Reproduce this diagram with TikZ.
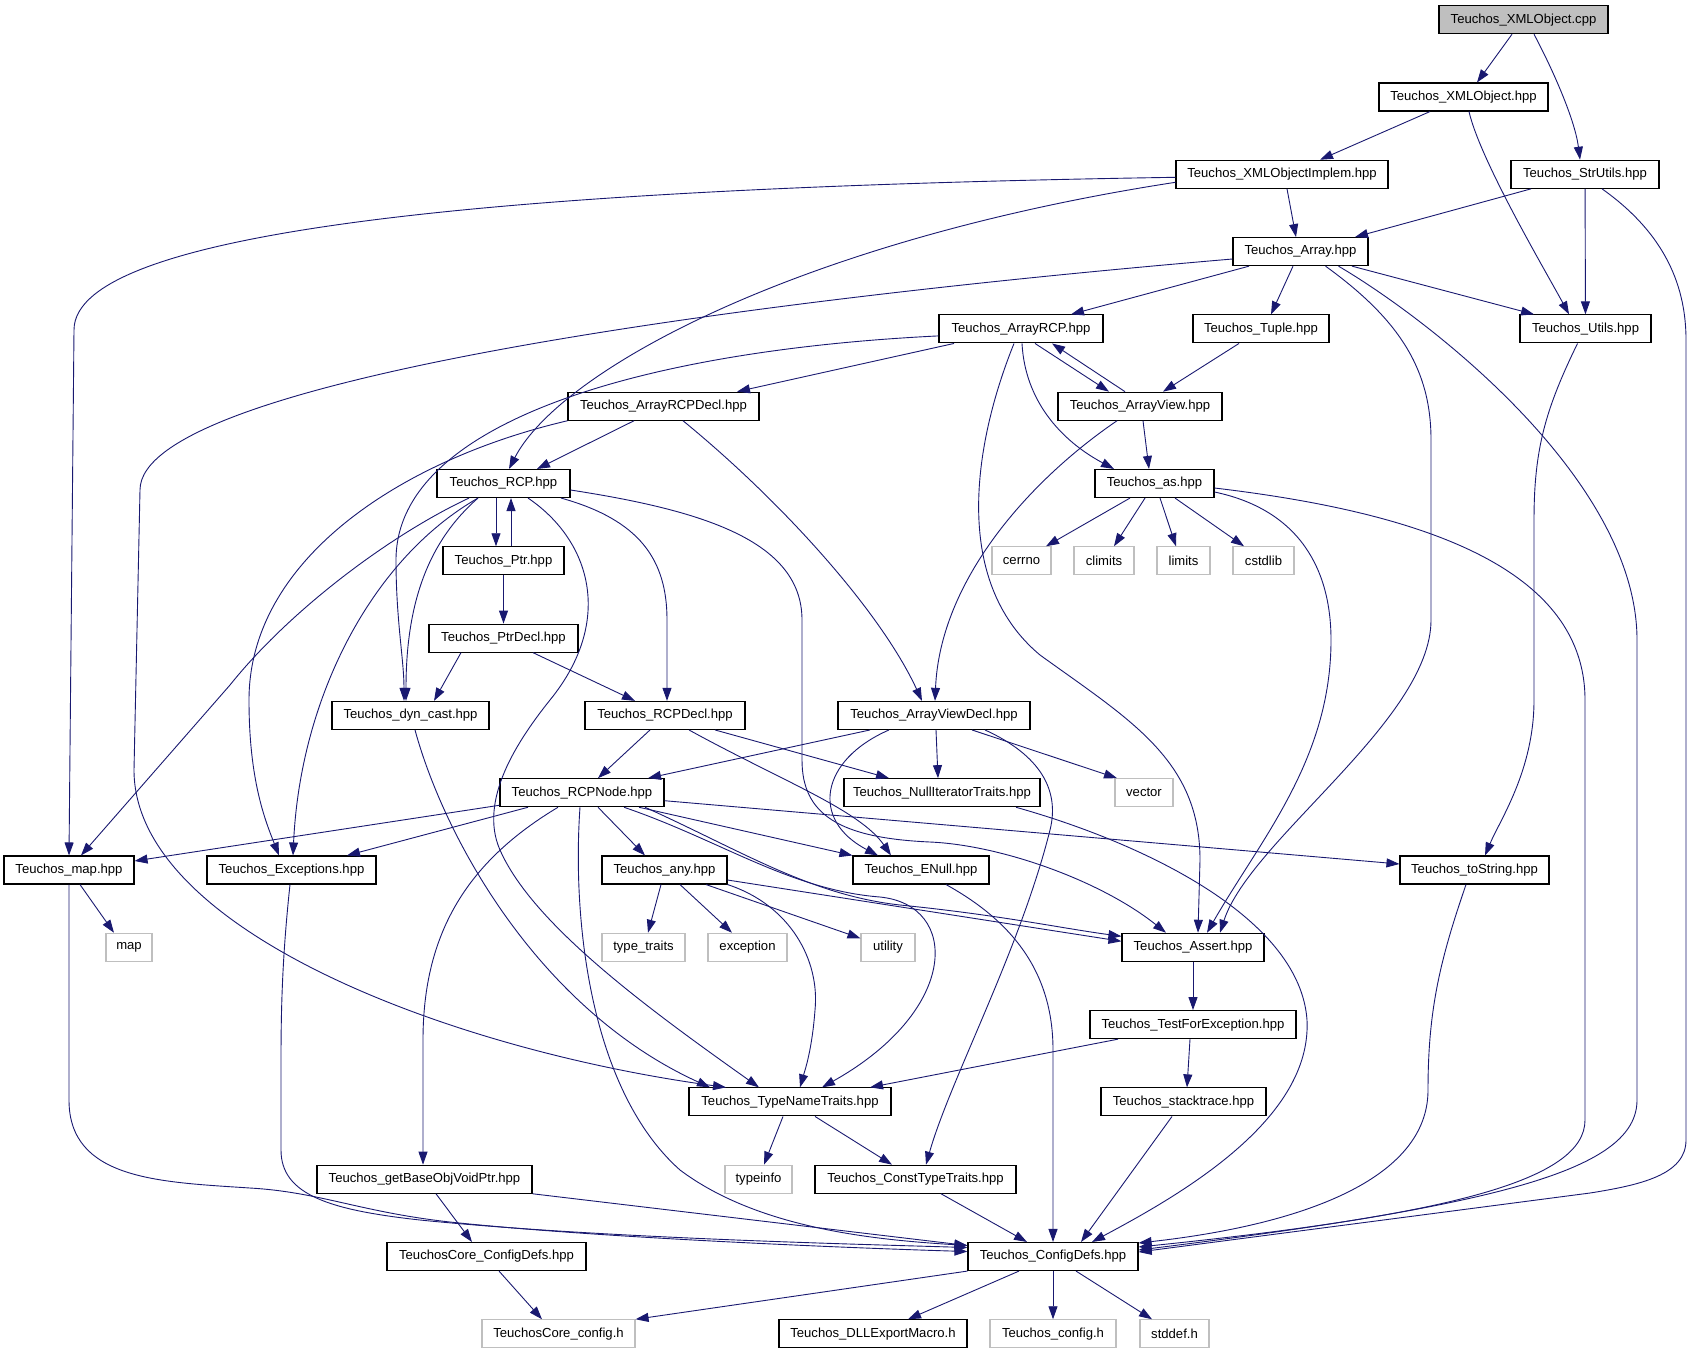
\documentclass[tikz,border=0pt]{standalone}
\usepackage{fontspec}
\setmainfont{Liberation Sans}
\usetikzlibrary{arrows.meta}
\definecolor{edgeblue}{HTML}{191970}
\definecolor{sysgray}{HTML}{BFBFBF}
\begin{document}
\begin{tikzpicture}[x=1pt,y=-1pt]
                \tikzstyle{hdr}=[draw=black, line width=1.1pt, fill=white, minimum height=28pt, inner xsep=2pt, inner ysep=0pt, font=\fontsize{13.1}{15}\selectfont]
                \tikzstyle{sys}=[hdr, draw=sysgray]
                \tikzstyle{src}=[hdr, fill=sysgray]
                \tikzstyle{dep}=[draw=edgeblue, line width=0.9pt, -{Triangle[length=13pt,width=9pt]}]

                \useasboundingbox (0,0) rectangle (1693,1355);

                % row 0 to 5
                \node[src, minimum width=169pt] (xmlcpp) at (1523.5,19.7) {Teuchos\_XMLObject.cpp};
                \node[hdr, minimum width=169pt] (xmlhpp) at (1463.5,97) {Teuchos\_XMLObject.hpp};
                \node[hdr, minimum width=212pt] (implem) at (1282,174.3) {Teuchos\_XMLObjectImplem.hpp};
                \node[hdr, minimum width=148pt] (strutils) at (1585,174.3) {Teuchos\_StrUtils.hpp};
                \node[hdr, minimum width=135pt] (array) at (1300.5,251.6) {Teuchos\_Array.hpp};
                \node[hdr, minimum width=164pt] (arrayrcp) at (1021,328.9) {Teuchos\_ArrayRCP.hpp};
                \node[hdr, minimum width=136pt] (tuple) at (1261,328.9) {Teuchos\_Tuple.hpp};
                \node[hdr, minimum width=131pt] (utils) at (1585.5,328.9) {Teuchos\_Utils.hpp};
                \node[hdr, minimum width=191pt] (arrayrcpdecl) at (663.5,406.2) {Teuchos\_ArrayRCPDecl.hpp};
                \node[hdr, minimum width=164pt] (arrayview) at (1140,406.2) {Teuchos\_ArrayView.hpp};

                % row 6 to 10
                \node[hdr, minimum width=133pt] (rcp) at (503.5,483.5) {Teuchos\_RCP.hpp};
                \node[hdr, minimum width=119pt] (as) at (1154.5,483.5) {Teuchos\_as.hpp};
                \node[hdr, minimum width=121pt] (ptr) at (503.5,560.8) {Teuchos\_Ptr.hpp};
                \node[sys, minimum width=59pt] (cerrno) at (1021.5,560.8) {cerrno};
                \node[sys, minimum width=60pt] (climits) at (1104,560.8) {climits};
                \node[sys, minimum width=53pt] (limits) at (1183.5,560.8) {limits};
                \node[sys, minimum width=61pt] (cstdlib) at (1263.5,560.8) {cstdlib};
                \node[hdr, minimum width=149pt] (ptrdecl) at (503.5,638.1) {Teuchos\_PtrDecl.hpp};
                \node[hdr, minimum width=157pt] (dyncast) at (410.5,715.4) {Teuchos\_dyn\_cast.hpp};
                \node[hdr, minimum width=160pt] (rcpdecl) at (665,715.4) {Teuchos\_RCPDecl.hpp};
                \node[hdr, minimum width=192pt] (arrayviewdecl) at (934,715.4) {Teuchos\_ArrayViewDecl.hpp};
                \node[hdr, minimum width=164pt] (rcpnode) at (582,792.7) {Teuchos\_RCPNode.hpp};
                \node[hdr, minimum width=196pt] (nulliter) at (942,792.7) {Teuchos\_NullIteratorTraits.hpp};
                \node[sys, minimum width=58pt] (vector) at (1144,792.7) {vector};

                % row 11 to 14
                \node[hdr, minimum width=130pt] (maphpp) at (69,870) {Teuchos\_map.hpp};
                \node[hdr, minimum width=169pt] (exceptions) at (291.5,870) {Teuchos\_Exceptions.hpp};
                \node[hdr, minimum width=125pt] (any) at (664.5,870) {Teuchos\_any.hpp};
                \node[hdr, minimum width=136pt] (enull) at (921,870) {Teuchos\_ENull.hpp};
                \node[hdr, minimum width=149pt] (tostring) at (1474.5,870) {Teuchos\_toString.hpp};
                \node[sys, minimum width=46pt] (map) at (129,947.3) {map};
                \node[sys, minimum width=83pt] (typetraits) at (643.5,947.3) {type\_traits};
                \node[sys, minimum width=79pt] (exception) at (747.5,947.3) {exception};
                \node[sys, minimum width=54pt] (utility) at (888,947.3) {utility};
                \node[hdr, minimum width=142pt] (assert) at (1193,947.3) {Teuchos\_Assert.hpp};
                \node[hdr, minimum width=206pt] (testfor) at (1193,1024.6) {Teuchos\_TestForException.hpp};
                \node[hdr, minimum width=202pt] (tnt) at (790,1101.9) {Teuchos\_TypeNameTraits.hpp};
                \node[hdr, minimum width=165pt] (stacktrace) at (1183.5,1101.9) {Teuchos\_stacktrace.hpp};

                % row 15 to 17
                \node[hdr, minimum width=215pt] (getbase) at (424.5,1179.2) {Teuchos\_getBaseObjVoidPtr.hpp};
                \node[sys, minimum width=67pt] (typeinfo) at (758.5,1179.2) {typeinfo};
                \node[hdr, minimum width=201pt] (ctt) at (915.5,1179.2) {Teuchos\_ConstTypeTraits.hpp};
                \node[hdr, minimum width=199pt] (coreconfigdefs) at (486.5,1256.5) {TeuchosCore\_ConfigDefs.hpp};
                \node[hdr, minimum width=170pt] (configdefs) at (1053,1256.5) {Teuchos\_ConfigDefs.hpp};
                \node[sys, minimum width=153pt] (coreconfig) at (558.5,1333.8) {TeuchosCore\_config.h};
                \node[hdr, minimum width=188pt] (dllexport) at (873,1333.8) {Teuchos\_DLLExportMacro.h};
                \node[sys, minimum width=126pt] (config) at (1053,1333.8) {Teuchos\_config.h};
                \node[sys, minimum width=69pt] (stddef) at (1174.5,1333.8) {stddef.h};

                % XMLObject.cpp, XMLObject.hpp, XMLObjectImplem.hpp
                \draw[dep] ([xshift=-11.5pt]xmlcpp.south) -- ([xshift=13.5pt]xmlhpp.north);
                \draw[dep] ([xshift=10.5pt]xmlcpp.south) .. controls (1553,70) and (1575,120) .. ([xshift=-5pt]strutils.north);
                \draw[dep] ([xshift=-33.5pt]xmlhpp.south) -- ([xshift=38pt]implem.north);
                \draw[dep] ([xshift=5.5pt]xmlhpp.south) .. controls (1480,160) and (1545,270) .. ([xshift=-16.5pt]utils.north);
                \draw[dep] ([yshift=-3pt]implem.west) .. controls (500,188) and (74,230) .. (74,330) -- (maphpp.north);
                \draw[dep] ([yshift=-8pt]implem.west) .. controls (800,240) and (560,370) .. ([xshift=5.5pt]rcp.north);
                \draw[dep] ([xshift=5pt]implem.south) -- ([xshift=-4.5pt]array.north);

                % StrUtils
                \draw[dep] ([xshift=-54pt]strutils.south) -- ([xshift=54.5pt]array.north);
                \draw[dep] (strutils) -- (utils);
                \draw[dep] ([xshift=17pt]strutils.south) .. controls (1660,230) and (1686,280) .. (1686,340) -- (1686,1140) .. controls (1686,1175) and (1640,1185) .. (1590,1193) -- ([yshift=4.5pt]configdefs.east);

                % Array
                \draw[dep] ([yshift=-7.4pt]array.west) .. controls (750,300) and (140,380) .. (140,490) -- (134,770) .. controls (134,930) and (450,1050) .. ([xshift=-64pt]tnt.north);
                \draw[dep] ([xshift=-51.5pt]array.south) -- ([xshift=50pt]arrayrcp.north);
                \draw[dep] ([xshift=-7.5pt]array.south) -- ([xshift=10pt]tuple.north);
                \draw[dep] ([xshift=51.5pt]array.south) -- ([xshift=-51.5pt]utils.north);
                \draw[dep] ([xshift=25pt]array.south) .. controls (1400,320) and (1431,370) .. (1431,440) -- (1431,620) .. controls (1431,720) and (1250,840) .. ([xshift=27pt]assert.north);
                \draw[dep] ([xshift=38pt]array.south) .. controls (1430,320) and (1637,480) .. (1637,640) -- (1637,1100) .. controls (1637,1170) and (1500,1205) .. ([yshift=6.5pt]configdefs.east);

                % ArrayRCP, Tuple, ArrayView, Utils
                \draw[dep] ([xshift=-67pt]arrayrcp.south) -- ([xshift=73.5pt]arrayrcpdecl.north);
                \draw[dep] ([yshift=-7pt]arrayrcp.west) .. controls (650,350) and (396,420) .. (396,560) .. controls (396,620) and (404,660) .. ([xshift=-6.5pt]dyncast.north);
                \draw[dep] ([xshift=14pt]arrayrcp.south) -- ([xshift=-31pt]arrayview.north);
                \draw[dep] ([xshift=1pt]arrayrcp.south) .. controls (1025,400) and (1060,440) .. ([xshift=-40.5pt]as.north);
                \draw[dep] ([xshift=-7pt]arrayrcp.south) .. controls (975,440) and (950,580) .. (1040,655) .. controls (1130,720) and (1200,760) .. (1200,860) -- ([xshift=5pt]assert.north);
                \draw[dep] ([xshift=-22pt]tuple.south) -- ([xshift=23pt]arrayview.north);
                \draw[dep] ([xshift=-15pt]arrayview.north) -- ([xshift=31pt]arrayrcp.south);
                \draw[dep] ([xshift=-23pt]arrayview.south) .. controls (1030,480) and (940,580) .. ([xshift=1pt]arrayviewdecl.north);
                \draw[dep] ([xshift=3pt]arrayview.south) -- ([xshift=-5.5pt]as.north);
                \draw[dep] ([xshift=-8pt]utils.south) .. controls (1545,410) and (1534,450) .. (1534,520) -- (1534,700) .. controls (1534,770) and (1500,820) .. ([xshift=10.5pt]tostring.north);

                % as
                \draw[dep] ([xshift=-24.5pt]as.south) -- ([xshift=24.5pt]cerrno.north);
                \draw[dep] ([xshift=-9.5pt]as.south) -- ([xshift=10pt]climits.north);
                \draw[dep] ([xshift=5.5pt]as.south) -- ([xshift=-7.5pt]limits.north);
                \draw[dep] ([xshift=20.5pt]as.south) -- ([xshift=-19.5pt]cstdlib.north);
                \draw[dep] ([yshift=-8.5pt]as.east) .. controls (1300,510) and (1331,570) .. (1331,640) .. controls (1331,760) and (1260,840) .. ([xshift=14pt]assert.north);
                \draw[dep] ([yshift=-4.5pt]as.east) .. controls (1400,510) and (1585,560) .. (1585,700) -- (1585,1120) .. controls (1585,1180) and (1450,1215) .. ([yshift=9.5pt]configdefs.east);

                % ArrayRCPDecl
                \draw[dep] ([xshift=-29.5pt]arrayrcpdecl.south) -- ([xshift=33.5pt]rcp.north);
                \draw[dep] (arrayrcpdecl.south west) .. controls (400,460) and (249,560) .. (249,700) .. controls (249,780) and (265,820) .. ([xshift=-12.5pt]exceptions.north);
                \draw[dep] ([xshift=19.5pt]arrayrcpdecl.south) .. controls (780,500) and (880,610) .. ([xshift=-12pt]arrayviewdecl.north);

                % RCP
                \draw[dep] ([xshift=-7.5pt]rcp.south) -- ([xshift=-7.5pt]ptr.north);
                \draw[dep] ([xshift=7.5pt]ptr.north) -- ([xshift=7.5pt]rcp.south);
                \draw[dep] ([xshift=-34.5pt]rcp.south) .. controls (390,535) and (290,610) .. (230,685) -- ([xshift=12pt]maphpp.north);
                \draw[dep] ([xshift=-25.5pt]rcp.south) .. controls (370,560) and (300,700) .. ([xshift=1.5pt]exceptions.north);
                \draw[dep] ([xshift=-25.5pt]rcp.south) .. controls (430,540) and (406,600) .. ([xshift=-4.5pt]dyncast.north);
                \draw[dep] ([xshift=24.5pt]rcp.south) .. controls (590,540) and (615,620) .. (550,700) .. controls (518,740) and (478,800) .. (500,850) .. controls (533,925) and (650,1010) .. ([xshift=-31pt]tnt.north);
                \draw[dep] ([xshift=57.5pt]rcp.south) .. controls (640,520) and (667,560) .. (667,620) -- ([xshift=2pt]rcpdecl.north);
                \draw[dep] ([yshift=-6.5pt]rcp.east) .. controls (700,510) and (802,540) .. (802,620) -- (802,760) .. controls (802,815) and (840,838) .. (930,842) .. controls (1000,845) and (1100,880) .. ([xshift=-27pt]assert.north);

                % Ptr, PtrDecl, dyn_cast
                \draw[dep] (ptr) -- (ptrdecl);
                \draw[dep] ([xshift=-42.5pt]ptrdecl.south) -- ([xshift=23.5pt]dyncast.north);
                \draw[dep] ([xshift=29.5pt]ptrdecl.south) -- ([xshift=-30pt]rcpdecl.north);
                \draw[dep] ([xshift=4.5pt]dyncast.south) .. controls (445,840) and (540,1010) .. ([xshift=-80pt]tnt.north);

                % RCPDecl, ArrayViewDecl
                \draw[dep] ([xshift=-15pt]rcpdecl.south) -- ([xshift=16pt]rcpnode.north);
                \draw[dep] ([xshift=50pt]rcpdecl.south) -- ([xshift=-53pt]nulliter.north);
                \draw[dep] ([xshift=24pt]rcpdecl.south) .. controls (780,780) and (860,810) .. ([xshift=-30pt]enull.north);
                \draw[dep] ([xshift=-64pt]arrayviewdecl.south) -- ([xshift=66pt]rcpnode.north);
                \draw[dep] ([xshift=2pt]arrayviewdecl.south) -- ([xshift=-4pt]nulliter.north);
                \draw[dep] ([xshift=-45pt]arrayviewdecl.south) .. controls (820,760) and (810,820) .. ([xshift=-43pt]enull.north);
                \draw[dep] ([xshift=38pt]arrayviewdecl.south) -- ([xshift=-27pt]vector.north);
                \draw[dep] ([xshift=51pt]arrayviewdecl.south) .. controls (1040,755) and (1060,790) .. (1050,830) .. controls (1020,950) and (950,1080) .. ([xshift=10.5pt]ctt.north);

                % RCPNode
                \draw[dep] ([yshift=2pt]rcpnode.south west) -- ([yshift=9pt]maphpp.east);
                \draw[dep] ([xshift=-54pt]rcpnode.south) -- ([xshift=55.5pt]exceptions.north);
                \draw[dep] ([xshift=-24pt]rcpnode.south) .. controls (470,860) and (423,930) .. (423,1040) -- ([xshift=-1.5pt]getbase.north);
                \draw[dep] ([xshift=-2pt]rcpnode.south) .. controls (572,920) and (590,1090) .. (680,1170) .. controls (760,1230) and (880,1240) .. ([yshift=11pt]configdefs.west);
                \draw[dep] ([xshift=16pt]rcpnode.south) -- ([xshift=-19.5pt]any.north);
                \draw[dep] ([xshift=42pt]rcpnode.south) .. controls (720,840) and (790,890) .. (880,897) .. controls (960,905) and (960,1010) .. ([xshift=32pt]tnt.north);
                \draw[dep] ([xshift=57pt]rcpnode.south) -- (enull.north west);
                \draw[dep] ([xshift=63pt]rcpnode.south) .. controls (740,850) and (810,895) .. (900,905) .. controls (1000,915) and (1060,928) .. ([yshift=11pt]assert.west);
                \draw[dep] ([yshift=-8pt]rcpnode.east) -- ([yshift=6pt]tostring.west);

                % any
                \draw[dep] ([yshift=-10pt]any.east) -- ([yshift=6pt]assert.west);
                \draw[dep] ([xshift=-3.5pt]any.south) -- ([xshift=4.5pt]typetraits.north);
                \draw[dep] ([xshift=15.5pt]any.south) -- ([xshift=-15.5pt]exception.north);
                \draw[dep] ([xshift=41.5pt]any.south) -- ([yshift=9pt]utility.west);
                \draw[dep] (any.south east) .. controls (790,905) and (820,960) .. (815,1010) .. controls (812,1050) and (805,1070) .. ([xshift=10pt]tnt.north);

                % map, Exceptions, getBaseObjVoidPtr
                \draw[dep] ([xshift=11pt]maphpp.south) -- ([xshift=-15pt]map.north);
                \draw[dep] (maphpp.south) -- (69,1100) .. controls (69,1180) and (160,1182) .. (250,1188) .. controls (320,1192) and (360,1212) .. (450,1222) .. controls (600,1238) and (850,1248) .. ([yshift=5pt]configdefs.west);
                \draw[dep] ([xshift=-1.5pt]exceptions.south) .. controls (283,950) and (281,1000) .. (281,1060) -- (281,1150) .. controls (281,1195) and (330,1210) .. (420,1220) .. controls (600,1238) and (850,1244) .. ([yshift=9pt]configdefs.west);
                \draw[dep] (getbase.south east) -- ([yshift=11pt]configdefs.west);
                \draw[dep] ([xshift=11.5pt]getbase.south) -- ([xshift=-14.5pt]coreconfigdefs.north);
                \draw[dep] ([xshift=12.5pt]coreconfigdefs.south) -- ([xshift=-16.5pt]coreconfig.north);

                % TypeNameTraits, ConstTypeTraits, ENull, NullIteratorTraits, toString
                \draw[dep] ([xshift=-7pt]tnt.south) -- ([xshift=5.5pt]typeinfo.north);
                \draw[dep] ([xshift=25pt]tnt.south) -- ([xshift=-23.5pt]ctt.north);
                \draw[dep] ([xshift=25.5pt]ctt.south) -- ([xshift=-26pt]configdefs.north);
                \draw[dep] ([xshift=25pt]enull.south) .. controls (1010,920) and (1053,970) .. (1053,1050) -- (configdefs.north);
                \draw[dep] ([xshift=74pt]nulliter.south) .. controls (1150,845) and (1300,920) .. (1307,1020) .. controls (1312,1120) and (1180,1195) .. ([xshift=39pt]configdefs.north);
                \draw[dep] ([xshift=-8.5pt]tostring.south) .. controls (1440,960) and (1428,1010) .. (1428,1090) .. controls (1428,1180) and (1300,1225) .. ([yshift=13.5pt]configdefs.east);

                % Assert, TestForException, stacktrace
                \draw[dep] (assert) -- (testfor);
                \draw[dep] ([xshift=-75pt]testfor.south) -- ([xshift=80pt]tnt.north);
                \draw[dep] ([xshift=-3pt]testfor.south) -- ([xshift=3.5pt]stacktrace.north);
                \draw[dep] ([xshift=-11.5pt]stacktrace.south) -- ([xshift=28pt]configdefs.north);

                % ConfigDefs
                \draw[dep] (configdefs.south west) -- (coreconfig.north east);
                \draw[dep] ([xshift=-34pt]configdefs.south) -- ([xshift=35pt]dllexport.north);
                \draw[dep] (configdefs) -- (config);
                \draw[dep] ([xshift=23pt]configdefs.south) -- ([xshift=-22.5pt]stddef.north);
            \end{tikzpicture}
\end{document}
